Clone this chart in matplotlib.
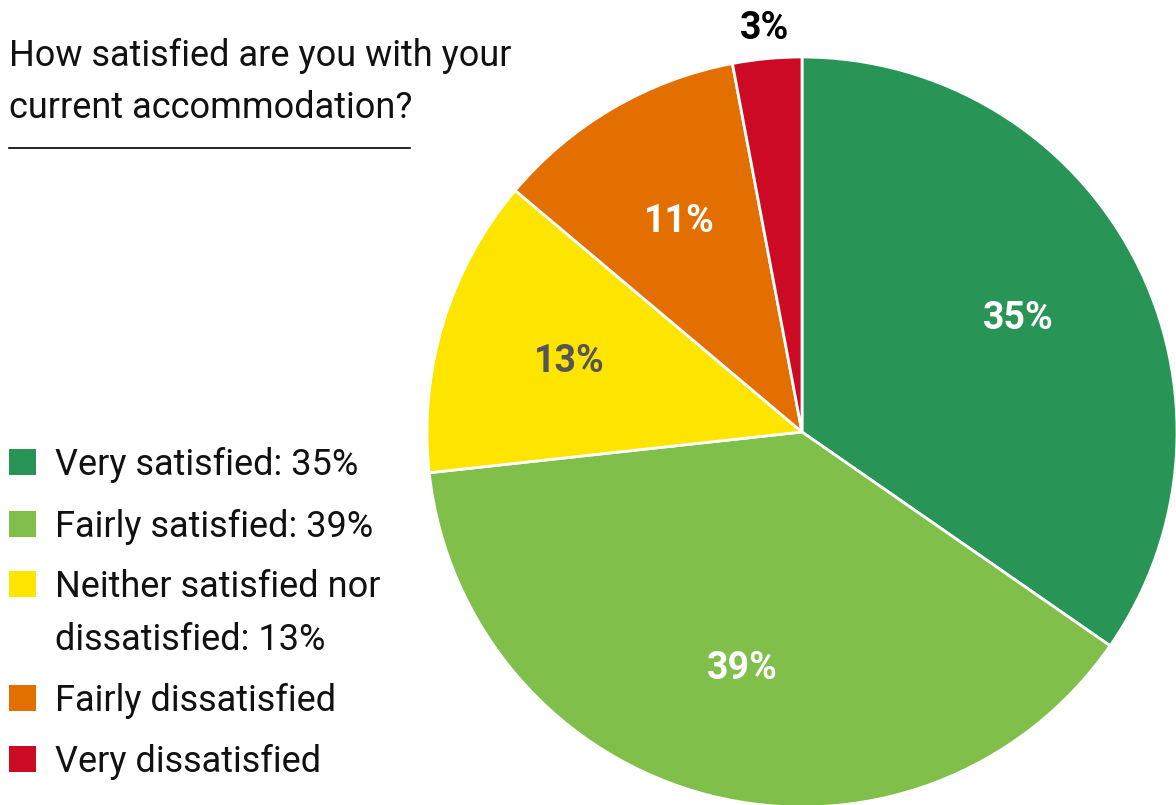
import matplotlib.pyplot as plt
import numpy as np
from matplotlib.patches import Rectangle

plt.rcParams['font.family'] = ['Roboto', 'DejaVu Sans']

categories = ["Very satisfied", "Fairly satisfied", "Neither satisfied nor\ndissatisfied",
              "Fairly dissatisfied", "Very dissatisfied"]
values = [35, 39, 13, 11, 3]
colors = ["#289455", "#80c04a", "#fde500", "#e36f00", "#cc0a24"]
label_colors = ["white", "white", "#555555", "white", "black"]
show_in_legend = [True, True, True, False, False]
title_lines = ["How satisfied are you with your", "current accommodation?"]

W, H = 1176, 805
fig = plt.figure(figsize=(W / 100, H / 100), dpi=100)

# pie centred at (802, 432) px with radius 375 px
cx, cy, r = 802, 432, 375
ax = fig.add_axes([(cx - r) / W, (H - cy - r) / H, 2 * r / W, 2 * r / H])
wedges, _ = ax.pie(values, colors=colors, startangle=90, counterclock=False,
                   radius=1, wedgeprops=dict(edgecolor="white", linewidth=2))
ax.set_xlim(-1, 1)
ax.set_ylim(-1, 1)
ax.set_aspect("equal")
ax.axis("off")

for w, v, lc in zip(wedges, values, label_colors):
    mid = np.deg2rad((w.theta1 + w.theta2) / 2)
    dist = 1.08 if v < 5 else 0.65
    ax.text(dist * np.cos(mid), dist * np.sin(mid), f"{v}%", ha="center", va="center",
            fontsize=27, fontweight="bold", color=lc, clip_on=False)

def fy(y):
    return 1 - y / H

txt = dict(fontsize=26, va="baseline", ha="left", color="#111111")

for y, line in zip([66, 118], title_lines):
    fig.text(9 / W, fy(y), line, **txt)
fig.add_artist(plt.Line2D([9 / W, 410 / W], [fy(148), fy(148)], color="black", linewidth=1.2))

# legend rows: baseline of each entry, the swatch sits on it
row_y = [475, 537, 597, 711, 772]
line_gap = 53
legend_text = [f"{c}: {v}%" if s else c for c, v, s in zip(categories, values, show_in_legend)]
for y, t, col in zip(row_y, legend_text, colors):
    fig.add_artist(Rectangle((9 / W, fy(y)), 27 / W, 26 / H, transform=fig.transFigure,
                             facecolor=col, edgecolor="none"))
    for i, part in enumerate(t.split("\n")):
        fig.text(55 / W, fy(y + i * line_gap), part, **txt)

fig.savefig("out.png", dpi=100)
